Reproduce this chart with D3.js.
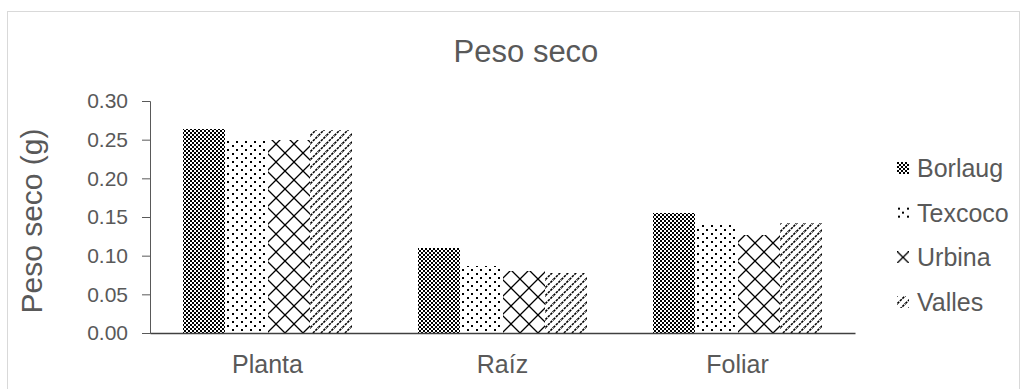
<!DOCTYPE html>
<html><head><meta charset="utf-8">
<script src="https://cdn.jsdelivr.net/npm/d3@7"></script>
<style>body{margin:0;background:#fff}svg{display:block}</style>
</head><body>
<svg id="c" width="1029" height="389"></svg>
<script>
const categories = ["Planta", "Raíz", "Foliar"];
const series = ["Borlaug", "Texcoco", "Urbina", "Valles"];
const borlaug = [0.264, 0.110, 0.155];
const texcoco = [0.250, 0.086, 0.142];
const urbina  = [0.249, 0.080, 0.127];
const valles  = [0.262, 0.077, 0.142];
const yTicks = [0, 0.05, 0.10, 0.15, 0.20, 0.25, 0.30];
const title = "Peso seco";
const yTitle = "Peso seco (g)";

const values = {Borlaug: borlaug, Texcoco: texcoco, Urbina: urbina, Valles: valles};
const table = categories.map((c, i) => ({cat: c, vals: series.map(s => ({s, v: values[s][i]}))}));

const svg = d3.select("#c");
const txt = "#595959";
const font = "'Liberation Sans', Arial, sans-serif";

// chart border
svg.append("rect").attr("x", 7.5).attr("y", 11.5).attr("width", 1012).attr("height", 400)
  .attr("fill", "none").attr("stroke", "#d9d9d9");

// patterns
const defs = svg.append("defs");
function checker(id) {
  const p = defs.append("pattern").attr("id", id).attr("patternUnits", "userSpaceOnUse").attr("width", 4).attr("height", 4);
  p.append("rect").attr("width", 4).attr("height", 4).attr("fill", "#fff");
  p.append("rect").attr("x", 0).attr("y", 0).attr("width", 2).attr("height", 2).attr("fill", "#000");
  p.append("rect").attr("x", 2).attr("y", 2).attr("width", 2).attr("height", 2).attr("fill", "#000");
}
function dots(id) {
  const p = defs.append("pattern").attr("id", id).attr("patternUnits", "userSpaceOnUse").attr("width", 9).attr("height", 8);
  p.append("rect").attr("width", 9).attr("height", 8).attr("fill", "#fff");
  p.append("rect").attr("x", 1).attr("y", 1).attr("width", 2).attr("height", 2).attr("fill", "#000");
  p.append("rect").attr("x", 5).attr("y", 5).attr("width", 2).attr("height", 2).attr("fill", "#000");
}
function cross(id, s) {
  const p = defs.append("pattern").attr("id", id).attr("patternUnits", "userSpaceOnUse").attr("width", s).attr("height", s);
  p.append("rect").attr("width", s).attr("height", s).attr("fill", "#fff");
  p.append("path").attr("d", `M0,0L${s},${s}M${s},0L0,${s}`).attr("stroke", "#000").attr("stroke-width", 1.3).attr("fill", "none");
}
function diag(id) {
  const s = 8;
  const p = defs.append("pattern").attr("id", id).attr("patternUnits", "userSpaceOnUse").attr("width", s).attr("height", s);
  p.append("rect").attr("width", s).attr("height", s).attr("fill", "#fff");
  p.append("path").attr("d", `M-2,${s+2}L${s+2},-2M-3,3L3,-3M${s-3},${s+3}L${s+3},${s-3}`)
    .attr("stroke", "#000").attr("stroke-width", 1.6).attr("stroke-dasharray", "2.5,1").attr("fill", "none");
}
checker("p-Borlaug"); dots("p-Texcoco"); cross("p-Urbina", 18); diag("p-Valles");
checker("l-Borlaug"); dots("l-Texcoco"); cross("l-Urbina", 12); diag("l-Valles");

// scales
const x0 = d3.scaleBand().domain(categories).range([150, 855]).paddingInner(0).paddingOuter(0);
const x1 = d3.scaleBand().domain(series).range([0, x0.bandwidth()]).paddingInner(0).paddingOuter(0.765);
const y = d3.scaleLinear().domain([0, 0.3]).range([333, 101]);

// bars
const g = svg.append("g");
g.selectAll("g.cat").data(table).join("g").attr("class", "cat")
  .attr("transform", d => `translate(${x0(d.cat)},0)`)
  .selectAll("rect").data(d => d.vals).join("rect")
  .attr("x", d => x1(d.s)).attr("width", x1.bandwidth())
  .attr("y", d => y(d.v)).attr("height", d => y(0) - y(d.v))
  .attr("fill", d => `url(#p-${d.s})`).attr("shape-rendering", "crispEdges");

// y axis
const ya = svg.append("g").attr("transform", "translate(150,0)")
  .call(d3.axisLeft(y).tickValues(yTicks).tickFormat(d3.format(".2f")).tickSize(8).tickPadding(14));
ya.select(".domain").attr("stroke", "#595959");
ya.selectAll(".tick line").attr("stroke", "#595959");
ya.selectAll("text").attr("fill", txt).style("font-family", font).style("font-size", "21px");

// x axis
const xa = svg.append("g").attr("transform", "translate(0,333)")
  .call(d3.axisBottom(x0).tickSize(0).tickPadding(22));
xa.select(".domain").attr("stroke", "#404040").attr("stroke-width", 1.4);
xa.selectAll("text").attr("fill", txt).style("font-family", font).style("font-size", "25px");

// title
svg.append("text").attr("x", 526).attr("y", 62).attr("text-anchor", "middle")
  .attr("fill", txt).style("font-family", font).style("font-size", "31px").text(title);

// y title
svg.append("text").attr("transform", "translate(42,221) rotate(-90)").attr("text-anchor", "middle")
  .attr("fill", txt).style("font-family", font).style("font-size", "30px").text(yTitle);

// legend
const ly = d3.scalePoint().domain(series).range([168, 302]);
const lg = svg.append("g").selectAll("g").data(series).join("g")
  .attr("transform", s => `translate(897,${ly(s) - 6})`);
lg.append("rect").attr("x", 0).attr("y", 0).attr("width", 12).attr("height", 12)
  .attr("fill", s => `url(#l-${s})`).attr("shape-rendering", "crispEdges");
lg.append("text").attr("x", 20).attr("y", 15).attr("fill", txt)
  .style("font-family", font).style("font-size", "25px").text(s => s);
</script>
</body></html>
